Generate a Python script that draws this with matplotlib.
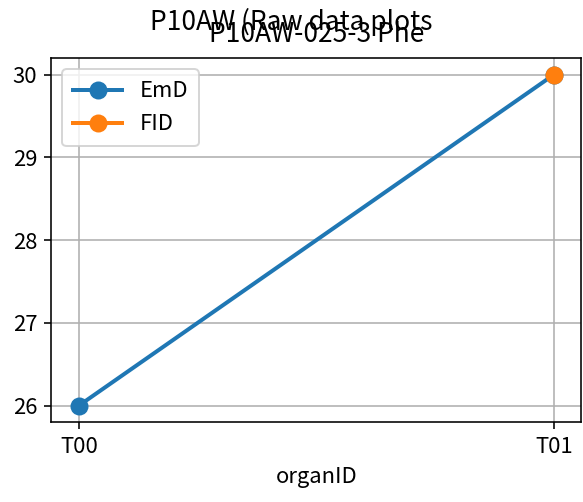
import numpy as np
import matplotlib.pyplot as plt
from matplotlib.ticker import MultipleLocator

plt.rcParams["font.family"] = ["Noto Sans CJK SC", "DejaVu Sans"]
plt.rcParams["font.size"] = 11

organs = ["T00", "T01"]
emd = [26, 30]
fid = [np.nan, 30]

fig = plt.figure(figsize=(583 / 144, 502 / 144), dpi=144)
ax = fig.add_subplot(111)
fig.subplots_adjust(left=0.088, right=0.997, top=0.884, bottom=0.159)

x = np.arange(len(organs))
ax.plot(x, emd, marker="o", markersize=8, linewidth=2, label="EmD")
ax.plot(x, fid, marker="o", markersize=8, linewidth=2, label="FID")

ax.set_xticks(x)
ax.set_xticklabels(organs)
ax.margins(x=0.058)
ax.yaxis.set_major_locator(MultipleLocator(1))
ax.set_xlabel("organID")
ax.grid(True)
ax.legend(loc="upper left", borderpad=0.5, handlelength=2.2)
ax.set_title("P10AW-025-3 Phe", pad=8)
fig.suptitle("P10AW (Raw data plots", y=0.985)

fig.savefig("out.png", dpi=144)
